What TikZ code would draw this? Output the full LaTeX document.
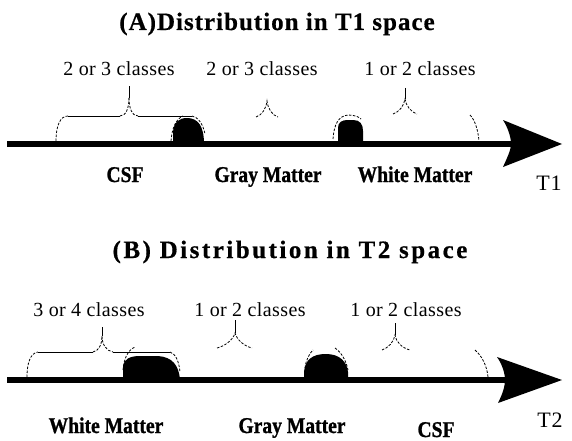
\documentclass[tikz,border=0pt]{standalone}
\usepackage{fontspec}
\setmainfont{Liberation Serif}
% serif faces for the labels
\newfontfamily\lblfont[LetterSpace=2]{Liberation Serif}
\newfontfamily\ttlfontA[LetterSpace=4,FakeBold=0.6]{Liberation Serif}
\newfontfamily\ttlfontB[LetterSpace=10,FakeBold=0.6]{Liberation Serif}
\newfontfamily\axfont[LetterSpace=4]{Liberation Serif}
\newfontfamily\tissuefont[FakeStretch=0.87,FakeBold=1]{Liberation Serif}

\tikzset{
  axis/.style={line width=6pt},
  headfill/.style={fill=black},
  bump/.style={fill=black},
  brace/.style={line width=0.8pt},
  arcdash/.style={brace, dash pattern=on 2.5pt off 1.5pt},
  classlbl/.style={anchor=base, inner sep=0pt, font=\lblfont\fontsize{20}{22}\selectfont},
  tissue/.style={anchor=base, inner sep=0pt, font=\tissuefont\bfseries\fontsize{22.5}{24}\selectfont},
  ttlA/.style={anchor=base, inner sep=0pt, font=\ttlfontA\bfseries\fontsize{25}{27}\selectfont},
  ttlB/.style={anchor=base, inner sep=0pt, font=\ttlfontB\bfseries\fontsize{25}{27}\selectfont},
  axlbl/.style={anchor=base, inner sep=0pt, font=\axfont\fontsize{22}{24}\selectfont},
}

\begin{document}
\begin{tikzpicture}[x=1pt,y=-1pt]
\useasboundingbox (0,0) rectangle (572,441);

% ---------------- (A) T1 axis ----------------
\node[ttlA] (titleA) at (277,30) {(A)Distribution in T1 space};

\node[classlbl] (ac1) at (119,76) {2 or 3 classes};
\node[classlbl] (ac2) at (262,76) {2 or 3 classes};
\node[classlbl] (ac3) at (420,76) {1 or 2 classes};

\coordinate (a0) at (7,144);
\coordinate (a1) at (512,144);
\draw[axis] (a0) -- (a1);
\fill[headfill] (503,120) -- (562,144) -- (503,167)
  .. controls (507,158) and (511,150) .. (511,144)
  .. controls (511,137) and (508,128) .. (503,120) -- cycle;

% tissue peaks
\fill[bump] (173,144) -- (173,132) .. controls (174,122) and (179,118) .. (187,118)
  .. controls (198,118) and (204,126) .. (204,144) -- cycle;
\fill[bump] (338,144) -- (338,128) .. controls (338,122) and (342,120) .. (348,120)
  -- (353,120) .. controls (360,120) and (363,124) .. (363,131) -- (363,144) -- cycle;

% brace over the CSF classes
\draw[arcdash] (56,141) .. controls (56,126) and (60,116) .. (68,116);
\draw[brace] (68,116) -- (120,116);
\draw[arcdash] (120,116) .. controls (126,116) and (129,108) .. (129,98);
\draw[brace] (129,98) -- (129,86);
\draw[arcdash] (129,98) .. controls (129,108) and (132,116) .. (138,116);
\draw[brace] (138,116) -- (192,116);
\draw[arcdash] (192,116) .. controls (198,117) and (203,124) .. (205,134);
\draw[arcdash] (171,141) .. controls (172,128) and (176,119) .. (183,116);

% gray matter cusp
\draw[arcdash] (256,117) .. controls (262,115) and (266,109) .. (267,101)
  .. controls (268,109) and (272,115) .. (278,117);

% white matter cusp and outlines
\draw[brace] (405,88) -- (405,99);
\draw[arcdash] (393,114) .. controls (399,112) and (404,106) .. (405,99)
  .. controls (406,106) and (411,112) .. (417,114);
\draw[arcdash] (333,139) .. controls (334,125) and (338,116) .. (348,115)
  .. controls (355,115) and (359,117) .. (361,119);
\draw[arcdash] (470,115) .. controls (475,120) and (478,130) .. (479,141);

\node[tissue] (acsf) at (125,182) {CSF};
\node[tissue] (agm)  at (268,182) {Gray Matter};
\node[tissue] (awm)  at (415,182) {White Matter};
\node[axlbl]  (at1)  at (549,190) {T1};

% ---------------- (B) T2 axis ----------------
\node[ttlB] (titleB) at (290,258) {(B) Distribution in T2 space};

\node[classlbl] (bc1) at (89,316) {3 or 4 classes};
\node[classlbl] (bc2) at (250,316) {1 or 2 classes};
\node[classlbl] (bc3) at (406,316) {1 or 2 classes};

\coordinate (b0) at (7,380);
\coordinate (b1) at (508,380);
\draw[axis] (b0) -- (b1);
\fill[headfill] (497,357) -- (562,380) -- (498,403)
  .. controls (502,395) and (505,387) .. (505,380)
  .. controls (505,373) and (502,364) .. (497,357) -- cycle;

% tissue peaks
\fill[bump] (123,380) -- (123,366) .. controls (124,359) and (130,356) .. (140,356)
  -- (158,356) .. controls (172,357) and (179,365) .. (180,380) -- cycle;
\fill[bump] (304,380) -- (304,372) .. controls (305,360) and (312,354) .. (326,354)
  .. controls (340,354) and (347,362) .. (348,372) -- (348,380) -- cycle;

% brace over the white matter classes
\draw[arcdash] (27,377) .. controls (27,364) and (30,353) .. (38,352);
\draw[brace] (38,352) -- (93,352);
\draw[arcdash] (93,352) .. controls (99,351) and (102,344) .. (102,336);
\draw[brace] (102,336) -- (102,327);
\draw[arcdash] (102,336) .. controls (102,344) and (106,351) .. (113,352);
\draw[brace] (113,352) -- (170,352);
\draw[arcdash] (170,352) .. controls (176,354) and (179,362) .. (180,372);
\draw[arcdash] (123,370) .. controls (124,358) and (128,350) .. (135,347);

% gray matter cusp and outlines
\draw[brace] (235,320) -- (235,333);
\draw[arcdash] (217,348) .. controls (225,346) and (233,340) .. (235,333)
  .. controls (237,340) and (244,346) .. (252,348);
\draw[arcdash] (305,368) .. controls (306,360) and (309,354) .. (313,350);
\draw[arcdash] (335,348) .. controls (341,352) and (346,360) .. (348,370);

% CSF cusp and outline
\draw[brace] (395,323) -- (395,335);
\draw[arcdash] (382,350) .. controls (388,348) and (394,342) .. (395,335)
  .. controls (396,342) and (402,348) .. (410,350);
\draw[arcdash] (475,350) .. controls (482,356) and (487,366) .. (488,377);

\node[tissue] (bwm)  at (106,433) {White Matter};
\node[tissue] (bgm)  at (292,433) {Gray Matter};
\node[tissue] (bcsf) at (436,437) {CSF};
\node[axlbl]  (bt2)  at (550,427) {T2};
\end{tikzpicture}
\end{document}
